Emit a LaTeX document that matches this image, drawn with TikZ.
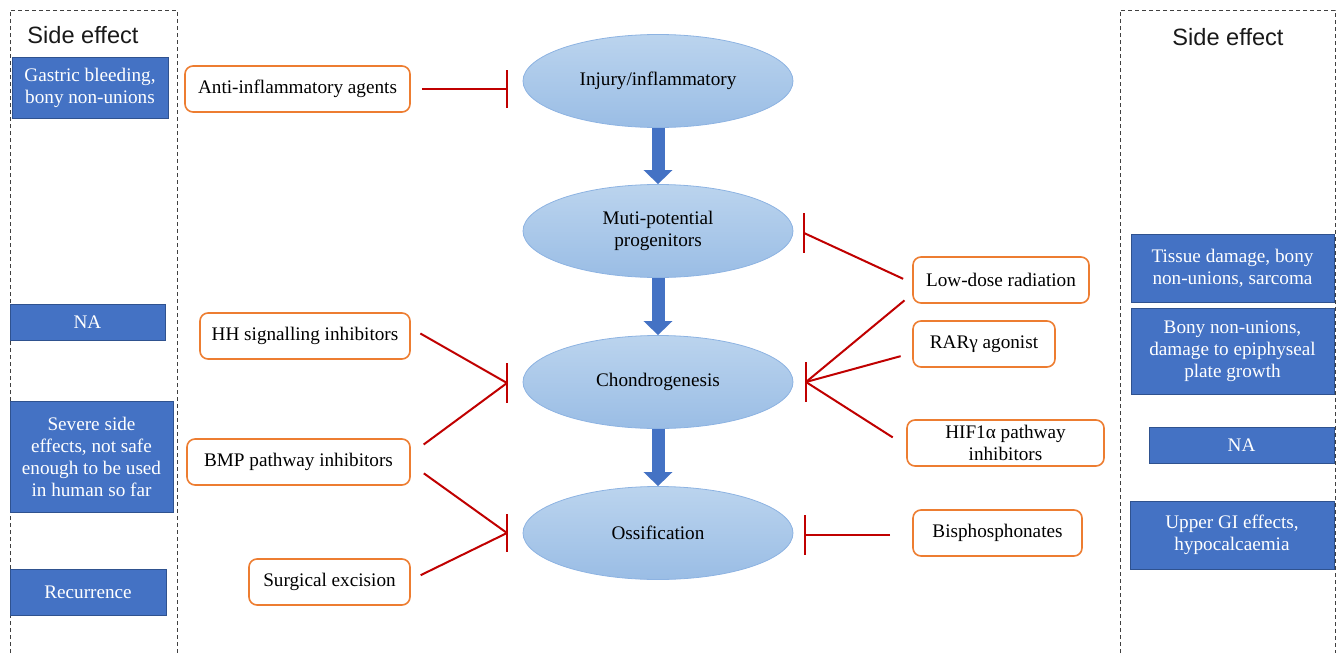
\documentclass[tikz,border=0pt]{standalone}
\usepackage{fontspec}
\setmainfont{Liberation Serif}
\newfontfamily\headfont{Liberation Sans}
\usetikzlibrary{arrows.meta,shapes.geometric}

\definecolor{sebl}{HTML}{4472C4}
\definecolor{sebd}{HTML}{2F528F}
\definecolor{treor}{HTML}{ED7D31}
\definecolor{inred}{HTML}{C00000}
\definecolor{stgtop}{HTML}{BBD4EE}
\definecolor{stgbot}{HTML}{9ABDE5}
\definecolor{stgln}{HTML}{8DB3E2}

\begin{document}
\begin{tikzpicture}[x=0.5pt,y=-0.5pt,
    font=\fontsize{9.6}{11}\selectfont,
    stage/.style={ellipse, draw=stgln, line width=0.4pt, top color=stgtop, bottom color=stgbot,
        minimum width=135pt, minimum height=46.5pt, inner sep=0pt, align=center},
    treat/.style={draw=treor, line width=0.8pt, rounded corners=4pt, fill=white,
        minimum height=23pt, inner sep=0pt, align=center},
    side/.style={fill=sebl, draw=sebd, line width=0.4pt, text=white, inner sep=0pt, align=center},
    flow/.style={draw=sebl, line width=6.5pt, -{Triangle[width=14pt,length=7pt]}},
    inh/.style={draw=inred, line width=1pt, shorten <=5.5pt},
    bar/.style={draw=inred, line width=1pt},
    frame/.style={draw=black!75, line width=0.5pt, dash pattern=on 2pt off 1.5pt}]

        \useasboundingbox (0,0) rectangle (1338,653);

        \draw[frame] (10,653) -- (10,10) -- (177,10) -- (177,653);
        \draw[frame] (1120,653) -- (1120,10) -- (1335,10) -- (1335,653);

        \node[font=\headfont\fontsize{11.8}{14}\selectfont, text=black!90] (SEL) at (83,35) {Side effect};
        \node[font=\headfont\fontsize{11.8}{14}\selectfont, text=black!90] (SER) at (1228,37) {Side effect};

        \node[stage] (INJ) at (658,81)  {Injury/inflammatory};
        \node[stage] (MUP) at (658,231) {Muti-potential\\progenitors};
        \node[stage] (CHO) at (658,382) {Chondrogenesis};
        \node[stage] (OSS) at (658,533) {Ossification};

        \coordinate (INJb) at (507,89);
        \coordinate (MUPb) at (804,233);
        \coordinate (CHOl) at (507,383);
        \coordinate (CHOr) at (806,382);
        \coordinate (OSSl) at (507,533);
        \coordinate (OSSr) at (805,535);

        \node[treat, minimum width=112.5pt] (AIA) at (297.5,89)  {Anti-inflammatory agents};
        \node[treat, minimum width=105pt]   (HHI) at (305,336)   {HH signalling inhibitors};
        \node[treat, minimum width=111.5pt] (BMP) at (298.5,462) {BMP pathway inhibitors};
        \node[treat, minimum width=80.5pt]  (SUR) at (329.5,582) {Surgical excision};
        \node[treat, minimum width=88pt]    (LDR) at (1001,280)  {Low-dose radiation};
        \node[treat, minimum width=71pt]    (RAR) at (984,344)   {RARγ agonist};
        \node[treat, minimum width=98.5pt]  (HIF) at (1005.5,443) {HIF1α pathway\\inhibitors};
        \node[treat, minimum width=84.5pt]  (BIS) at (997.5,533) {Bisphosphonates};

        \node[side, minimum width=78pt, minimum height=30.5pt]   (SE1) at (90,88)   {Gastric bleeding,\\bony non-unions};
        \node[side, minimum width=77.5pt, minimum height=18pt]   (SE2) at (87.5,322) {NA};
        \node[side, minimum width=81.5pt, minimum height=55.5pt] (SE3) at (91.5,457) {Severe side\\effects, not safe\\enough to be used\\in human so far};
        \node[side, minimum width=78pt, minimum height=23pt]     (SE4) at (88,592)  {Recurrence};
        \node[side, minimum width=101.5pt, minimum height=34pt]  (SE5) at (1232.5,268) {Tissue damage, bony\\non-unions, sarcoma};
        \node[side, minimum width=101.5pt, minimum height=43pt]  (SE6) at (1232.5,351) {Bony non-unions,\\damage to epiphyseal\\plate growth};
        \node[side, minimum width=92.5pt, minimum height=18pt]   (SE7) at (1241.5,445) {NA};
        \node[side, minimum width=102pt, minimum height=34pt]    (SE8) at (1232,535) {Upper GI effects,\\hypocalcaemia};

        \draw[flow] (INJ) -- (MUP);
        \draw[flow] (MUP) -- (CHO);
        \draw[flow] (CHO) -- (OSS);

        \draw[inh] (AIA.east) -- (INJb);
        \draw[inh] ([yshift=4pt]HHI.east) -- (CHOl);
        \draw[inh, shorten <=8pt] ([yshift=4pt]BMP.east) -- (CHOl);
        \draw[inh, shorten <=8pt] ([yshift=-1pt]BMP.east) -- (OSSl);
        \draw[inh] ([yshift=1pt]SUR.east) -- (OSSl);
        \draw[inh, shorten <=5pt] ([yshift=-1.5pt]LDR.west) -- (MUPb);
        \draw[inh, shorten <=5pt] ([yshift=-7pt]LDR.west) -- (CHOr);
        \draw[inh, shorten <=6pt] ([yshift=-4.5pt]RAR.west) -- (CHOr);
        \draw[inh, shorten <=8pt] ([yshift=-1.5pt]HIF.west) -- (CHOr);
        \draw[inh, shorten <=11pt] ([yshift=-1pt]BIS.west) -- (OSSr);

        \draw[bar] (INJb) ++(0,-19) -- ++(0,38);
        \draw[bar] (MUPb) ++(0,-20) -- ++(0,40);
        \draw[bar] (CHOl) ++(0,-20) -- ++(0,40);
        \draw[bar] (CHOr) ++(0,-20) -- ++(0,40);
        \draw[bar] (OSSl) ++(0,-19) -- ++(0,38);
        \draw[bar] (OSSr) ++(0,-20) -- ++(0,40);
    \end{tikzpicture}
\end{document}
